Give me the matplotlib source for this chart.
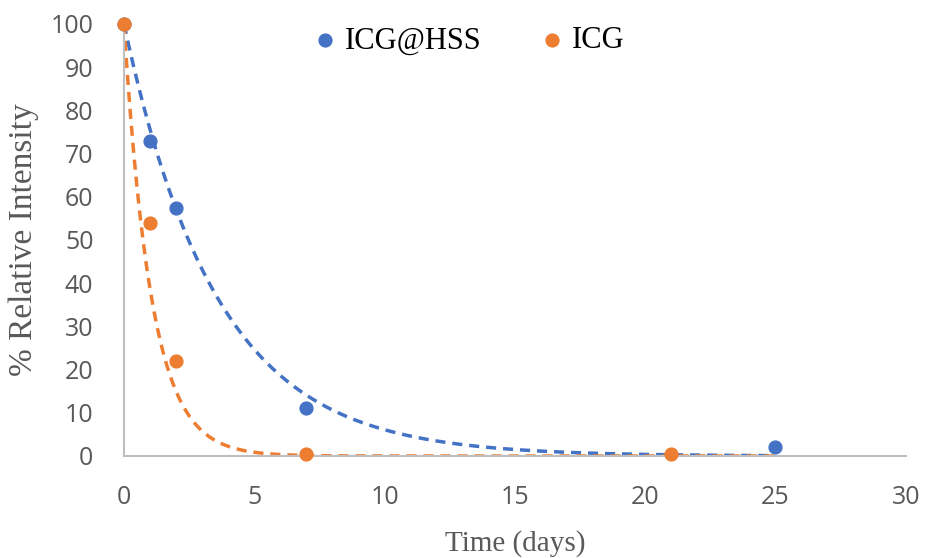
import numpy as np
import matplotlib
matplotlib.use("Agg")
import matplotlib.pyplot as plt

# measured relative fluorescence intensity (%)
days_hss = [0, 1, 2, 7, 25]
intensity_hss = [100, 73, 57.5, 11, 2]
days_icg = [0, 1, 2, 7, 21]
intensity_icg = [100, 54, 22, 0.5, 0.5]

# exponential trendlines y = A * exp(-k t)
trend_hss = (100.0, 0.28)
trend_icg = (100.0, 0.95)
trend_end = 25

BLUE = "#4472C4"
ORANGE = "#ED7D31"
AXIS_GREY = "#BFBFBF"
TICK_GREY = "#595959"
SERIF = ["Liberation Serif", "DejaVu Serif"]

fig = plt.figure(figsize=(9.28, 5.58), dpi=100)
ax = fig.add_axes([0.1336, 0.1828, 0.976 - 0.1336, 0.957 - 0.1828])

t = np.linspace(0, trend_end, 400)
for (a, k), color in [(trend_hss, BLUE), (trend_icg, ORANGE)]:
    ax.plot(t, a * np.exp(-k * t), ls=(0, (2.9, 2.0)), lw=2.5, color=color, zorder=2)

ax.scatter(days_hss, intensity_hss, s=85, color=BLUE, label="ICG@HSS", zorder=3, clip_on=False)
ax.scatter(days_icg, intensity_icg, s=85, color=ORANGE, label="ICG", zorder=3, clip_on=False)

ax.set_xlim(0, 30)
ax.set_ylim(0, 100)
ax.set_xticks(range(0, 31, 5))
ax.set_yticks(range(0, 101, 10))
ax.tick_params(length=0, labelsize=18, labelcolor=TICK_GREY)
ax.tick_params(axis="x", pad=21)
ax.tick_params(axis="y", pad=22)
for lab in ax.get_xticklabels() + ax.get_yticklabels():
    lab.set_family(["Open Sans", "DejaVu Sans"])

for side in ("top", "right"):
    ax.spines[side].set_visible(False)
for side in ("left", "bottom"):
    ax.spines[side].set_color(AXIS_GREY)
    ax.spines[side].set_linewidth(1.5)

ax.set_xlabel("Time (days)", family=SERIF, fontsize=21, color=TICK_GREY, labelpad=14)
ax.set_ylabel("% Relative Intensity", family=SERIF, fontsize=24, color=TICK_GREY, labelpad=8)

fig.legend(*ax.get_legend_handles_labels(), loc="center",
           bbox_to_anchor=(0.507, 1 - 41 / 558), ncol=2, frameon=False,
           prop={"family": SERIF, "size": 22}, handlelength=0.6, handletextpad=0.35,
           columnspacing=2.0, borderpad=0, borderaxespad=0)

fig.savefig("out.png", dpi=100)
